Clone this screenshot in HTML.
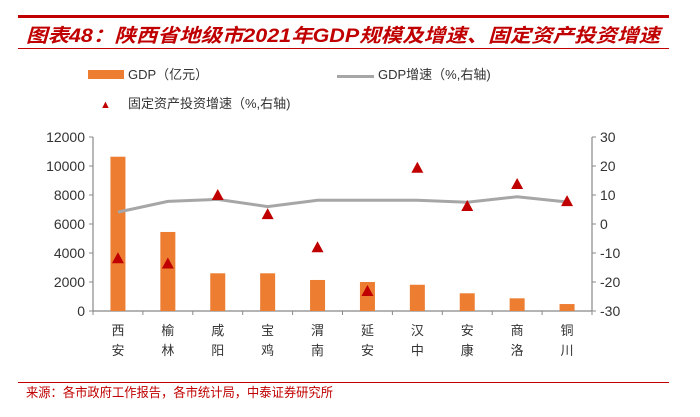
<!DOCTYPE html>
<html><head><meta charset="utf-8"><style>
body{margin:0;background:#fff;width:700px;height:412px;overflow:hidden;font-family:"Liberation Sans","Noto Sans CJK SC",sans-serif}
</style></head><body>
<svg width="700" height="412" style="font-family:'Liberation Sans','Noto Sans CJK SC',sans-serif">
<rect x="18" y="15" width="651" height="3" fill="#c00000"/>
<text x="26" y="42" font-size="19" font-weight="bold" font-style="italic" fill="#c00000" textLength="634" lengthAdjust="spacingAndGlyphs">图表48：陕西省地级市2021年GDP规模及增速、固定资产投资增速</text>
<rect x="18" y="48" width="651" height="1" fill="#c00000"/>
<g>
<rect x="88" y="70" width="36" height="9" fill="#ed7d31"/>
<text x="128" y="79" font-size="13" fill="#333">GDP（亿元）</text>
<rect x="337" y="75" width="37" height="3" fill="#a6a6a6"/>
<text x="378" y="79" font-size="13" fill="#333">GDP增速（%,右轴)</text>
<text x="100" y="108" font-size="11" fill="#c00000">▲</text>
<text x="128" y="108" font-size="13" fill="#333">固定资产投资增速（%,右轴)</text>
</g>
<g id="plot"></g>
<text x="26" y="397" font-size="13" fill="#c00000" textLength="307" lengthAdjust="spacingAndGlyphs">来源：各市政府工作报告，各市统计局，中泰证券研究所</text>
<rect x="18" y="382" width="651" height="1" fill="#c00000"/>
</svg>
<script>
const cities=["西安","榆林","咸阳","宝鸡","渭南","延安","汉中","安康","商洛","铜川"];
const gdp=[10640,5450,2600,2600,2140,2000,1810,1220,875,480];
const gdpGrowth=[4.1,7.8,8.5,6.0,8.2,8.2,8.2,7.5,9.4,7.6];
const faiGrowth=[-11.8,-13.6,10,3.4,-8.0,-23.1,19.4,6.2,13.8,7.9];
const leftTicks=[0,2000,4000,6000,8000,10000,12000];
const rightTicks=[-30,-20,-10,0,10,20,30];
const X0=93,X1=592,Y0=311,Y1=137;
const NS="http://www.w3.org/2000/svg";
const g=document.getElementById('plot');
const step=(X1-X0)/cities.length;
const xc=i=>X0+step*(i+0.5);
const yL=v=>Y0-(v/12000)*(Y0-Y1);
const yR=v=>Y0-((v+30)/60)*(Y0-Y1);
function mk(t,a){const e=document.createElementNS(NS,t);for(const k in a)e.setAttribute(k,a[k]);g.appendChild(e);return e;}
let e;
e=mk('line',{x1:X0,y1:Y1,x2:X0,y2:Y0,stroke:'#888','stroke-width':1.2});

e=mk('line',{x1:X1,y1:Y1,x2:X1,y2:Y0,stroke:'#888','stroke-width':1.2});

e=mk('line',{x1:X0,y1:Y0,x2:X1,y2:Y0,stroke:'#888','stroke-width':1.2});

leftTicks.forEach(v=>{const y=yL(v);
e=mk('line',{x1:X0-4,y1:y,x2:X0,y2:y,stroke:'#888'});

e=mk('text',{x:X0-8,y:y+5,'text-anchor':'end','font-size':14,fill:'#333'});e.textContent=v;
});
rightTicks.forEach(v=>{const y=yR(v);
e=mk('line',{x1:X1,y1:y,x2:X1+4,y2:y,stroke:'#888'});

e=mk('text',{x:X1+8,y:y+5,'font-size':14,fill:'#333'});e.textContent=v;
});
for(let i=0;i<=cities.length;i++){const x=X0+step*i;
e=mk('line',{x1:x,y1:Y0,x2:x,y2:Y0+4,stroke:'#888'});
}
cities.forEach((c,i)=>{
e=mk('rect',{x:xc(i)-7.5,y:yL(gdp[i]),width:15,height:Y0-yL(gdp[i]),fill:'#ed7d31'});

[0,1].forEach(k=>{e=mk('text',{x:xc(i),y:Y0+24+k*20,'text-anchor':'middle','font-size':13,fill:'#333'});e.textContent=c[k];
});
});
e=mk('polyline',{points:gdpGrowth.map((v,i)=>xc(i)+','+yR(v)).join(' '),fill:'none',stroke:'#a6a6a6','stroke-width':3});

faiGrowth.forEach((v,i)=>{const x=xc(i),y=yR(v);
e=mk('polygon',{points:`${x},${y-6} ${x-6},${y+5} ${x+6},${y+5}`,fill:'#c00000'});
});
</script>
</body></html>
